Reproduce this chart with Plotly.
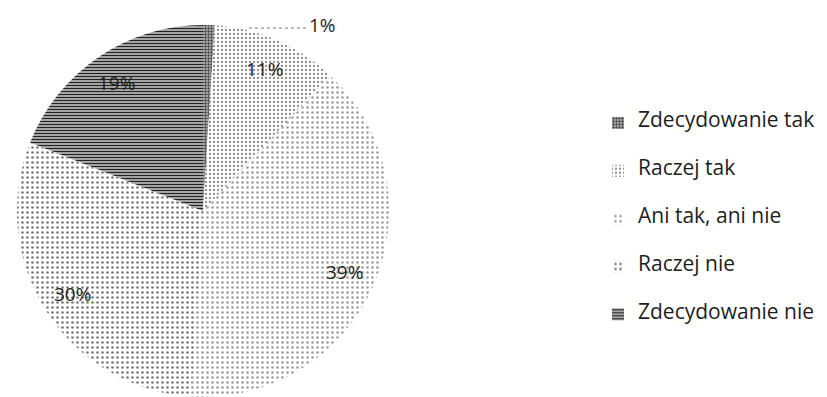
import math
import plotly.graph_objects as go

# Survey answers and their shares (%)
categories = ["Zdecydowanie tak", "Raczej tak", "Ani tak, ani nie", "Raczej nie", "Zdecydowanie nie"]
shares = [1, 11, 39, 30, 19]

# Grey hatch fills for each answer
fill_colors = ["#9a9a9a", "#eeeeee", "#f3f3f3", "#efefef", "#8a8a8a"]
pattern_shapes = [".", ".", ".", ".", "-"]
pattern_fg = ["#444444", "#8c8c8c", "#9a9a9a", "#7a7a7a", "#222222"]
pattern_bg = ["#bdbdbd", "#ffffff", "#ffffff", "#ffffff", "#bfbfbf"]
pattern_size = [3, 4, 5, 5, 3]
pattern_solidity = [0.5, 0.25, 0.2, 0.22, 0.45]

W, H = 827, 397
CX, CY, R = 203, 211, 186  # pie centre and radius in pixels

fig = go.Figure()

# legend entries padded with blank lines to widen the row spacing
legend_text = [f" <br><span style='font-size:21px'>{c}</span><br> " for c in categories]

fig.add_trace(go.Pie(
    labels=legend_text,
    values=shares,
    sort=False,
    direction="clockwise",
    rotation=0,
    textinfo="none",
    hoverinfo="skip",
    marker=dict(
        colors=fill_colors,
        line=dict(width=0),
        pattern=dict(
            shape=pattern_shapes,
            fgcolor=pattern_fg,
            bgcolor=pattern_bg,
            size=pattern_size,
            solidity=pattern_solidity,
            fillmode="replace",
        ),
    ),
    domain=dict(x=[(CX - R) / W, (CX + R) / W], y=[(H - CY - R) / H, (H - CY + R) / H]),
))


def to_paper(px, py):
    return px / W, 1 - py / H


# Percentage labels placed along each slice's mid-angle
total = sum(shares)
cum = 0
annotations = []
shapes = []
for cat, v in zip(categories, shares):
    mid = (cum + v / 2) / total * 2 * math.pi
    cum += v
    txt = f"{v}%"
    if v / total < 0.05:
        # small slice: label outside with a dotted leader line
        ex = CX + R * 1.01 * math.sin(mid) + 40
        ey = CY - R * math.cos(mid) + 3
        lx, ly = ex + 74, ey - 3
        x0, y0 = to_paper(ex, ey)
        x1, y1 = to_paper(lx - 15, ey)
        shapes.append(dict(type="line", xref="paper", yref="paper", x0=x0, y0=y0, x1=x1, y1=y1,
                           line=dict(color="#777777", width=1, dash="dot")))
    else:
        rr = R * 0.83
        lx = CX + rr * math.sin(mid)
        ly = CY - rr * math.cos(mid)
    ax_, ay_ = to_paper(lx, ly)
    annotations.append(dict(x=ax_, y=ay_, xref="paper", yref="paper", text=txt, showarrow=False,
                            font=dict(family="Open Sans", size=19, color="#1e1e1e"),
                            xanchor="center", yanchor="middle"))

fig.update_layout(
    width=W, height=H,
    margin=dict(l=0, r=0, t=0, b=0),
    paper_bgcolor="white",
    plot_bgcolor="white",
    showlegend=True,
    legend=dict(
        x=598 / W, y=1 - 219 / H, xanchor="left", yanchor="middle",
        font=dict(family="Open Sans", size=11.5, color="#1e1e1e"),
        itemsizing="constant",
        bgcolor="rgba(0,0,0,0)",
    ),
    annotations=annotations,
    shapes=shapes,
)

fig.write_html("out.html")
